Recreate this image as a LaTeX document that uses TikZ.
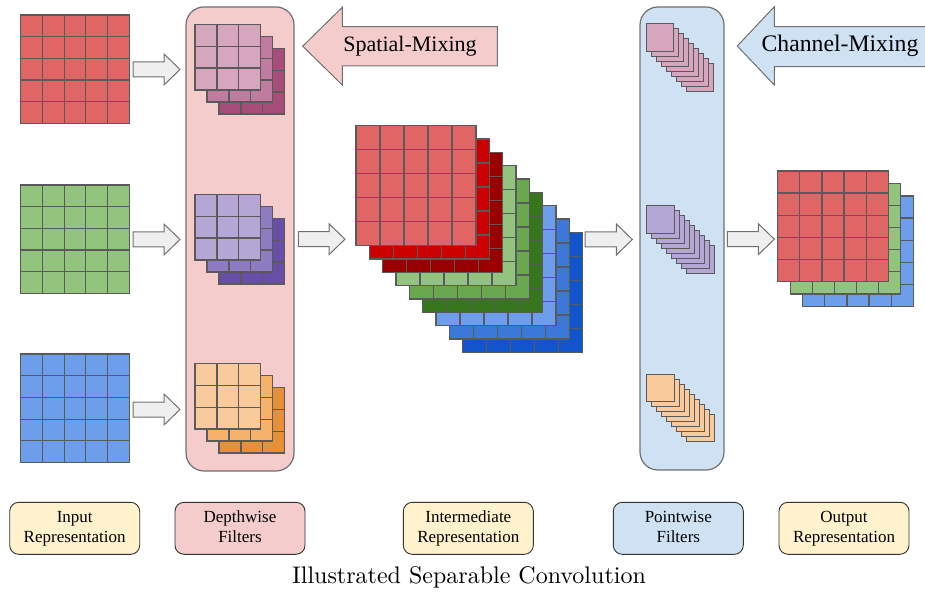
\documentclass[tikz,border=0pt]{standalone}
\usepackage{fontspec}
\newfontfamily\tnr{Liberation Serif}
\newfontfamily\capfont{lmroman10-regular}[Extension=.otf]
\definecolor{gridc}{HTML}{5A5A5A}
\definecolor{strk}{HTML}{707070}
\definecolor{garrf}{HTML}{EFEFEF}
\definecolor{pinkp}{HTML}{F4CCCC}
\definecolor{bluep}{HTML}{CFE2F3}
\definecolor{yell}{HTML}{FFF2CC}
\definecolor{rA}{HTML}{E06666}\definecolor{rB}{HTML}{CC0000}\definecolor{rC}{HTML}{990000}
\definecolor{gA}{HTML}{93C47D}\definecolor{gB}{HTML}{6AA84F}\definecolor{gC}{HTML}{38761D}
\definecolor{bA}{HTML}{6D9EEB}\definecolor{bB}{HTML}{3C78D8}\definecolor{bC}{HTML}{1155CC}
\definecolor{mA}{HTML}{D5A6BD}\definecolor{mB}{HTML}{C27BA0}\definecolor{mC}{HTML}{A64D79}
\definecolor{pA}{HTML}{B4A7D6}\definecolor{pB}{HTML}{8E7CC3}\definecolor{pC}{HTML}{674EA7}
\definecolor{oA}{HTML}{F9CB9C}\definecolor{oB}{HTML}{F6B26B}\definecolor{oC}{HTML}{E69138}
% grid: x y cell n colour
\newcommand\cgrid[5]{%
  \fill[fill=#5] (#1,#2) rectangle ({#1+#3*#4},{#2+#3*#4});
  \foreach \k in {1,...,\numexpr#4-1\relax}{%
    \draw[gl] ({#1+\k*#3},#2) -- ({#1+\k*#3},{#2+#3*#4});
    \draw[gl] (#1,{#2+\k*#3}) -- ({#1+#3*#4},{#2+\k*#3});
  }%
  \draw[gl] (#1,#2) rectangle ({#1+#3*#4},{#2+#3*#4});
}
% pointwise stack: x y colour
\newcommand\pstack[3]{%
  \foreach \k in {8,7,...,0}{%
    \filldraw[fill=#3,draw=gridc,line width=1pt] ({#1+5*\k},{#2+5*\k}) rectangle ++(27.5,27.5);
  }%
}
% grey block arrow: tail tip centre-y
\newcommand\garrow[3]{%
  \draw[garr] (#1,{#3-7.5}) -- ({#2-16},{#3-7.5}) -- ({#2-16},{#3-15.5}) -- (#2,#3)
    -- ({#2-16},{#3+15.5}) -- ({#2-16},{#3+7.5}) -- (#1,{#3+7.5}) -- cycle;
}
\newcommand\twolines[2]{\raisebox{-3pt}{\begin{tabular}{@{}c@{}}#1\\#2\end{tabular}}}
\begin{document}
\begin{tikzpicture}[x=1pt,y=-1pt,
  gl/.style={draw=gridc,line width=1.2pt},
  garr/.style={draw=strk,fill=garrf,line width=1pt,line join=miter},
  panel/.style={draw=strk,line width=1.2pt,rounded corners=18pt,inner sep=0pt},
  lab/.style={draw=black!80,line width=0.9pt,rounded corners=9pt,minimum width=130pt,
    minimum height=52pt,align=center,inner sep=0pt,font=\tnr\fontsize{17}{20}\selectfont},
  mixtxt/.style={font=\tnr\fontsize{22}{26}\selectfont,inner sep=0pt}]
\useasboundingbox (0,0) rectangle (925,593);

% panels
\node[panel,fill=pinkp,minimum width=108pt,minimum height=464pt] (dwpanel) at (240,239) {};
\node[panel,fill=bluep,minimum width=84pt,minimum height=463pt] (pwpanel) at (682,238.5) {};

% mixing arrows
\draw[draw=strk,fill=pinkp,line width=1pt] (497.3,26.7) -- (342.3,26.7) -- (342.3,7.3) -- (302.7,46.2)
  -- (342.3,85) -- (342.3,66) -- (497.3,66) -- cycle;
\node[mixtxt] (spatial) at (410,46) {Spatial-Mixing};
\draw[draw=strk,fill=bluep,line width=1pt] (940,26.7) -- (774.3,26.7) -- (774.3,6.7) -- (737.3,46)
  -- (774.3,85) -- (774.3,66.7) -- (940,66.7) -- cycle;
\node[mixtxt,font=\tnr\fontsize{23.7}{28}\selectfont] (channel) at (840,46) {Channel-Mixing};

% input grids
\cgrid{20.7}{15}{21.7}{5}{rA}
\cgrid{20.7}{185}{21.7}{5}{gA}
\cgrid{20.7}{354}{21.7}{5}{bA}

% grey arrows
\garrow{133}{180}{69.5}
\garrow{133}{180}{239.5}
\garrow{133}{180}{409.5}
\garrow{298.3}{345}{239.2}
\garrow{585}{632.3}{239.5}
\garrow{727.3}{774.3}{239.2}

% depthwise filters
\cgrid{219}{48.3}{21.9}{3}{mC}\cgrid{207}{36.3}{21.9}{3}{mB}\cgrid{195}{24.3}{21.9}{3}{mA}
\cgrid{219}{218.3}{21.9}{3}{pC}\cgrid{207}{206.3}{21.9}{3}{pB}\cgrid{195}{194.3}{21.9}{3}{pA}
\cgrid{219}{387.3}{21.9}{3}{oC}\cgrid{207}{375.3}{21.9}{3}{oB}\cgrid{195}{363.3}{21.9}{3}{oA}

% intermediate representation
\foreach \j/\c in {8/bC,7/bB,6/bA,5/gC,4/gB,3/gA,2/rC,1/rB,0/rA}{%
  \pgfmathsetmacro\gx{356+13.33*\j}%
  \pgfmathsetmacro\gy{125.7+13.33*\j}%
  \cgrid{\gx}{\gy}{24}{5}{\c}
}

% pointwise filters
\pstack{646}{24}{mA}
\pstack{646.5}{206}{pA}
\pstack{646.5}{374.3}{oA}

% output representation
\cgrid{802.7}{196}{22.1}{5}{bA}
\cgrid{790.2}{183.5}{22.1}{5}{gA}
\cgrid{777.7}{171}{22.1}{5}{rA}

% labels
\node[lab,fill=yell] (linput) at (74.7,528.3) {\twolines{Input}{Representation}};
\node[lab,fill=pinkp] (ldepth) at (240,528.3) {\twolines{Depthwise}{Filters}};
\node[lab,fill=yell] (linter) at (468.3,528.3) {\twolines{Intermediate}{Representation}};
\node[lab,fill=bluep] (lpoint) at (678.3,528.3) {\twolines{Pointwise}{Filters}};
\node[lab,fill=yell] (loutput) at (844,528.3) {\twolines{Output}{Representation}};

\node[font=\capfont\fontsize{24}{28}\selectfont,inner sep=0pt] (caption) at (469,577) {Illustrated Separable Convolution};
\end{tikzpicture}
\end{document}
